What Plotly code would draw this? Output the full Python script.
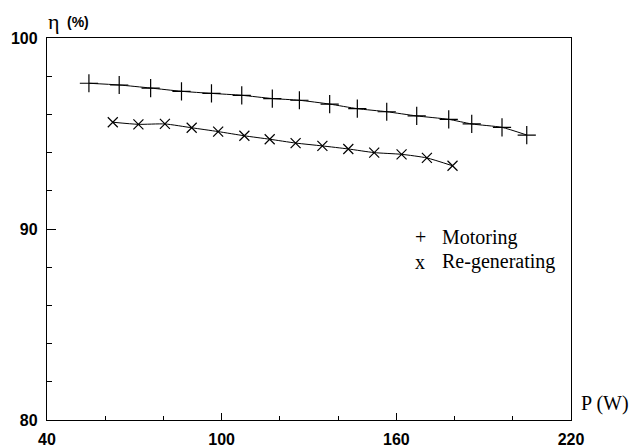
import plotly.graph_objects as go

# Motoring (+)
mot_p = [54.4, 64.8, 75.6, 86.2, 96.5, 106.9, 117.4, 126.7, 137.1, 146.6, 156.7, 167.0, 178.0, 185.9, 196.3, 204.8]
mot_eta = [97.63, 97.54, 97.38, 97.21, 97.10, 97.00, 96.83, 96.74, 96.54, 96.30, 96.14, 95.92, 95.74, 95.50, 95.32, 94.92]

# Re-generating (x)
reg_p = [62.6, 71.4, 80.5, 89.7, 98.8, 107.8, 116.5, 125.4, 134.6, 143.5, 152.4, 161.8, 170.5, 179.3]
reg_eta = [95.59, 95.48, 95.50, 95.30, 95.10, 94.88, 94.70, 94.50, 94.35, 94.19, 94.00, 93.91, 93.72, 93.31]

x_ticks = [40, 100, 160, 220]
y_ticks = [80, 90, 100]

# page body has an 8px margin; work in screen pixel coordinates
OFF = 8
SCR_W, SCR_H = 644, 447
X0, X1 = 47, 571      # plot left/right on screen
Y0, Y1 = 38, 420      # plot top/bottom on screen
W, H = SCR_W - OFF, SCR_H - OFF
L, T = X0 - OFF, Y0 - OFF
R = W - (X1 - OFF)
B = H - (Y1 - OFF)
PW, PH = X1 - X0, Y1 - Y0

def px(xp):
    return (xp - X0) / PW

def py(yp):
    return (Y1 - yp) / PH

fig = go.Figure()
fig.add_trace(go.Scatter(
    x=mot_p, y=mot_eta, mode="lines+markers", name="Motoring",
    line=dict(color="black", width=1.0, shape="spline", smoothing=0.6),
    marker=dict(symbol="cross-thin-open", size=13, color="black",
                line=dict(width=1.2, color="black")),
    showlegend=False))
fig.add_trace(go.Scatter(
    x=reg_p, y=reg_eta, mode="lines+markers", name="Re-generating",
    line=dict(color="black", width=1.0, shape="spline", smoothing=0.6),
    marker=dict(symbol="x-thin-open", size=10, color="black",
                line=dict(width=1.2, color="black")),
    showlegend=False))

tick_font = dict(family="Liberation Sans, Arial, sans-serif", size=16, color="black", weight="bold")

fig.update_xaxes(
    range=[40, 220], tickvals=x_ticks, ticktext=[str(v) for v in x_ticks],
    ticks="inside", ticklen=7, tickwidth=1, tickcolor="black",
    minor=dict(dtick=20, tick0=40, ticks="inside", ticklen=4, tickcolor="black", tickwidth=1),
    showline=True, linecolor="black", linewidth=1.3, mirror=True,
    showgrid=False, zeroline=False, tickfont=tick_font, ticklabelstandoff=5,
    automargin=False)
fig.update_yaxes(
    range=[80, 100], tickvals=y_ticks, ticktext=[str(v) for v in y_ticks],
    ticks="inside", ticklen=9, tickwidth=1, tickcolor="black",
    minor=dict(dtick=2, tick0=80, ticks="inside", ticklen=5, tickcolor="black", tickwidth=1),
    showline=True, linecolor="black", linewidth=1.3, mirror=True,
    showgrid=False, zeroline=False, tickfont=tick_font, ticklabelstandoff=5,
    automargin=False)

serif = "Liberation Serif, Times New Roman, serif"
sans = "Liberation Sans, Arial, sans-serif"
annots = [
    dict(x=px(46), y=py(21), xanchor="left", yanchor="middle",
         text="η", font=dict(family=serif, size=22, color="black")),
    dict(x=px(65), y=py(22), xanchor="left", yanchor="middle",
         text="<b>(%)</b>", font=dict(family=sans, size=14, color="black")),
    dict(x=px(579), y=py(403), xanchor="left", yanchor="middle",
         text="P (W)", font=dict(family=serif, size=20, color="black")),
    dict(x=px(420), y=py(237), xanchor="center", yanchor="middle",
         text="+", font=dict(family=serif, size=20, color="black")),
    dict(x=px(440), y=py(237), xanchor="left", yanchor="middle",
         text="Motoring", font=dict(family=serif, size=20, color="black")),
    dict(x=px(420), y=py(262), xanchor="center", yanchor="middle",
         text="x", font=dict(family=serif, size=20, color="black")),
    dict(x=px(440), y=py(262), xanchor="left", yanchor="middle",
         text="Re-generating", font=dict(family=serif, size=20, color="black")),
]
for a in annots:
    a.update(xref="paper", yref="paper", showarrow=False)
    fig.add_annotation(**a)

fig.update_layout(
    width=W, height=H, autosize=False,
    margin=dict(l=L, r=R, t=T, b=B, pad=0),
    paper_bgcolor="white", plot_bgcolor="white",
    showlegend=False)

fig.write_html("out.html")
